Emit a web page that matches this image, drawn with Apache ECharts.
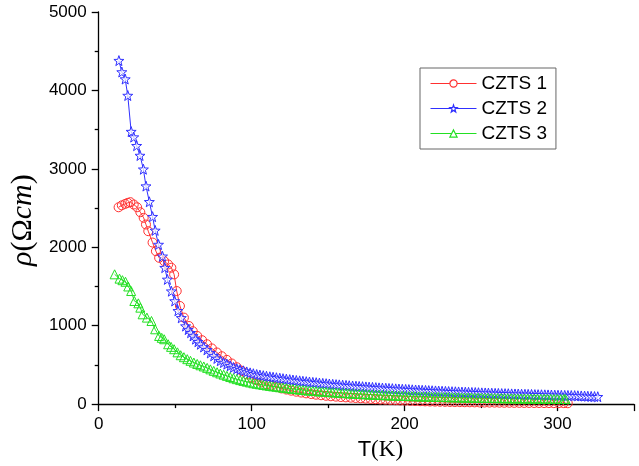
<!DOCTYPE html>
<html>
<head>
<meta charset="utf-8">
<script src="https://cdn.jsdelivr.net/npm/echarts@6/dist/echarts.min.js"></script>
<style>html,body{margin:0;padding:0;background:#fff}#c{width:639px;height:466px}</style>
</head>
<body>
<div id="c"></div>
<script>
var seriesNames = ['CZTS 1', 'CZTS 2', 'CZTS 3'];
var xTicks = [0, 100, 200, 300];
var yTicks = [0, 1000, 2000, 3000, 4000, 5000];

var t1 = [13.0,15.1,17.3,19.0,20.7,22.9,25.1,27.2,29.4,30.9,32.4,35.2,37.4,39.5,42.8,45.4,47.5,49.3,51.0,53.1,55.7,59.0,61.5,64.4,67.6,70.8,74.0,77.3,80.5,83.8,87.0,90.3,93.5,96.8,100.0,103.3,106.5,109.7,113.0,116.2,119.4,122.7,125.9,129.2,132.4,135.6,138.9,142.1,145.4,148.6,151.8,155.1,158.3,161.6,164.8,168.0,171.3,174.5,177.8,181.0,184.2,187.5,190.7,194.0,197.2,200.4,203.7,206.9,210.2,213.4,216.6,219.9,223.1,226.4,229.6,232.8,236.1,239.3,242.6,245.8,249.0,252.3,255.5,258.8,262.0,265.2,268.5,271.7,275.0,278.2,281.4,284.7,287.9,291.2,294.4,297.6,300.9,304.1,306.7];
var rho1 = [2510,2535,2553,2566,2575,2545,2510,2447,2375,2290,2205,2060,1950,1866,1823,1781,1739,1654,1442,1251,1103,996,930,869,815,763,710,658,610,564,518,470,425,380,340,305,278,255,235,217,200,185,171,158,147,137,128,120,113,106,100,95,90,86,82,78,74,70,66,62,58,55,52,49,46,44,41,39,37,35,33,32,30,29,27,26,25,24,23,22,21,20,19,19,18,17,17,16,16,15,15,14,14,13,13,12,12,12,11];

var t2 = [13.2,15.1,17.3,19.0,21.2,22.9,24.8,27.0,29.2,30.9,33.1,35.2,36.9,39.1,41.7,43.2,44.9,47.5,49.7,51.8,54.0,56.8,58.5,60.1,61.7,63.3,64.9,66.5,68.6,70.8,73.0,75.2,77.3,79.5,81.6,83.8,86.0,88.1,90.3,92.4,94.6,96.8,99.0,101.1,103.3,105.4,107.6,109.7,111.9,114.0,116.2,118.4,120.5,122.7,124.9,127.0,129.2,131.4,133.5,135.7,137.8,140.0,142.2,144.3,146.5,148.7,150.8,153.0,155.2,157.3,159.5,161.7,163.8,166.0,168.2,170.3,172.5,174.7,176.8,179.0,181.2,183.3,185.5,187.7,189.8,192.0,194.2,196.3,198.5,200.7,202.8,205.0,207.2,209.3,211.5,213.7,215.8,218.0,220.2,222.3,224.5,226.7,228.8,231.0,233.2,235.3,237.5,239.7,241.8,244.0,246.2,248.3,250.5,252.7,254.8,257.0,259.2,261.3,263.5,265.7,267.8,270.0,272.2,274.3,276.5,278.7,280.8,283.0,285.2,287.3,289.5,291.7,293.8,296.0,298.2,300.3,302.5,304.7,306.8,309.0,311.2,313.3,315.5,317.7,319.8,322.0,324.2,326.3];
var rho2 = [4380,4235,4145,3935,3475,3405,3295,3170,2995,2780,2580,2390,2215,2035,1885,1740,1590,1440,1315,1190,1100,995,950,910,870,828,795,763,728,692,652,615,582,552,530,509,488,467,450,437,424,410,398,387,377,370,362,355,348,342,336,330,324,318,312,307,301,296,291,286,282,277,273,268,264,260,256,252,248,245,241,238,234,231,228,225,222,219,216,213,210,207,204,202,199,197,194,192,189,187,185,182,180,178,176,174,172,170,168,166,164,162,160,158,157,155,153,152,150,148,147,145,143,142,140,139,137,136,134,133,132,130,129,128,126,125,124,123,121,120,119,118,117,116,114,113,112,111,110,109,108,106,104,102,100,98,96,94];

var t3 = [10.4,13.6,15.5,17.5,19.3,21.2,23.3,25.9,27.2,28.7,31.5,34.5,36.9,39.5,41.2,42.8,45.4,47.3,49.3,51.5,53.6,55.7,57.9,60.0,62.2,64.4,66.5,68.7,70.9,73.0,75.2,77.4,79.5,81.7,83.8,86.0,88.1,90.3,92.5,94.6,96.8,98.9,101.1,103.3,105.4,107.6,109.7,111.9,114.0,116.2,118.4,120.5,122.7,124.8,127.0,129.2,131.3,133.5,135.6,137.8,140.0,142.1,144.3,146.4,148.6,150.8,152.9,155.1,157.2,159.4,161.6,163.7,165.9,168.0,170.2,172.4,174.5,176.7,178.8,181.0,183.2,185.3,187.5,189.6,191.8,194.0,196.1,198.3,200.4,202.6,204.8,206.9,209.1,211.2,213.4,215.6,217.7,219.9,222.0,224.2,226.4,228.5,230.7,232.8,235.0,237.2,239.3,241.5,243.6,245.8,248.0,250.1,252.3,254.4,256.6,258.8,260.9,263.1,265.2,267.4,269.6,271.7,273.9,276.0,278.2,280.4,282.5,284.7,286.8,289.0,291.2,293.3,295.5,297.6,299.8,302.0,304.1,305.2];
var rho3 = [1655,1600,1580,1560,1500,1442,1315,1285,1230,1145,1103,1060,954,869,845,827,763,730,700,660,623,598,573,552,530,512,495,480,462,443,424,406,390,375,360,345,330,318,306,296,286,276,266,259,252,245,238,232,226,221,215,210,204,199,194,190,185,181,177,173,169,166,162,159,156,153,150,147,144,141,139,136,134,131,129,127,125,123,121,119,117,115,113,112,110,108,107,105,104,102,101,100,98,97,96,95,93,92,91,90,89,88,87,86,85,84,83,82,82,81,80,79,78,78,77,76,76,75,74,74,73,72,72,71,71,70,70,69,69,68,68,67,67,66,66,65,65,64];

function pairs(t, r) { return t.map(function (v, i) { return [v, r[i]]; }); }

var starPath = 'path://M0,-10L2.35,-3.24L9.51,-3.09L3.8,1.24L5.88,8.09L0,4L-5.88,8.09L-3.8,1.24L-9.51,-3.09L-2.35,-3.24Z';
var circlePath = 'path://M10,0A10,10 0 1,1 -10,0A10,10 0 1,1 10,0Z';
var triPath = 'path://M0,-10L10,8L-10,8Z';
var RED = '#ff3030', BLUE = '#3030ff', GREEN = '#22e022';
var colors = [RED, BLUE, GREEN];

function mkSeries(name, data, color, symbol, size, fill) {
  return {
    name: name, type: 'line', data: data,
    symbol: symbol, symbolSize: size, showAllSymbol: true,
    lineStyle: { color: color, width: 1 },
    itemStyle: { color: fill, borderColor: color, borderWidth: 1 },
    emphasis: { disabled: true }
  };
}

var chart = echarts.init(document.getElementById('c'), null, { renderer: 'canvas' });
chart.setOption({
  animation: false,
  backgroundColor: '#fff',
  grid: { left: 94, right: 5, top: 12, bottom: 61, containLabel: false },
  legend: {
    orient: 'vertical', left: 420, top: 68,
    data: seriesNames.map(function (n, i) {
      return { name: n,
        itemStyle: { color: '#fff', borderColor: colors[i], borderWidth: 1.2 },
        lineStyle: { color: colors[i], width: 1 } };
    }),
    itemWidth: 46, itemHeight: 9, itemGap: 6,
    padding: [6, 9, 6, 10],
    borderColor: '#666', borderWidth: 1,
    textStyle: { fontFamily: 'Liberation Sans', fontSize: 19, color: '#000' }
  },
  xAxis: {
    type: 'value', min: 0, max: 350, interval: 100,
    name: '{s|T}{r|(K)}', nameLocation: 'middle', nameGap: 31,
    nameTextStyle: { padding: [0, 0, 0, 28], rich: {
      s: { fontFamily: 'Liberation Sans', fontSize: 22, color: '#000' },
      r: { fontFamily: 'Liberation Serif', fontSize: 23, color: '#000' }
    } },
    axisLine: { onZero: false, lineStyle: { color: '#000', width: 1.3 } },
    axisTick: { show: true, length: 7, inside: false, lineStyle: { color: '#000', width: 1.3 } },
    minorTick: { show: true, splitNumber: 2, length: 4, lineStyle: { color: '#000', width: 1.3 } },
    axisLabel: { fontFamily: 'Liberation Sans', fontSize: 17, color: '#000', margin: 12, showMaxLabel: false,
      formatter: function (v) { return String(v); } },
    splitLine: { show: false }
  },
  yAxis: {
    type: 'value', min: 0, max: 5000, interval: 1000,
    name: '{i|ρ}{r|(Ω}{i|cm}{r|)}', nameLocation: 'middle', nameGap: 55, nameRotate: 90,
    nameTextStyle: { padding: [0, 24, 0, 0], rich: {
      i: { fontFamily: 'Liberation Serif', fontStyle: 'italic', fontSize: 30, color: '#000' },
      r: { fontFamily: 'Liberation Serif', fontSize: 30, color: '#000' }
    } },
    axisLine: { onZero: false, lineStyle: { color: '#000', width: 1.3 } },
    axisTick: { show: true, length: 7, inside: false, lineStyle: { color: '#000', width: 1.3 } },
    minorTick: { show: true, splitNumber: 2, length: 4, lineStyle: { color: '#000', width: 1.3 } },
    axisLabel: { fontFamily: 'Liberation Sans', fontSize: 17, color: '#000', margin: 12,
      formatter: function (v) { return String(v); } },
    splitLine: { show: false }
  },
  series: [
    mkSeries(seriesNames[0], pairs(t1, rho1), RED, circlePath, 9, 'rgba(255,255,255,0)'),
    mkSeries(seriesNames[1], pairs(t2, rho2), BLUE, starPath, 10, 'rgba(255,255,255,0.7)'),
    mkSeries(seriesNames[2], pairs(t3, rho3), GREEN, triPath, 9, 'rgba(255,255,255,0)')
  ]
});
</script>
</body>
</html>
